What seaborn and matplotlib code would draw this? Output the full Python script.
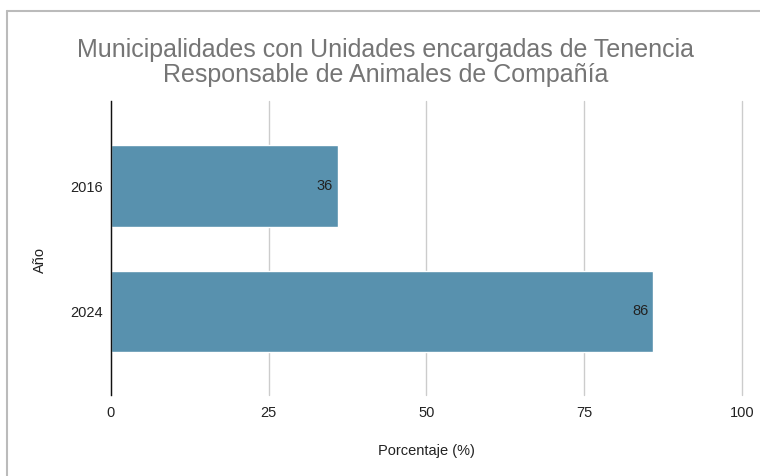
import matplotlib
matplotlib.use("Agg")
import matplotlib.pyplot as plt
import seaborn as sns
import pandas as pd
from matplotlib.lines import Line2D

# Datos del grafico
anios = ["2016", "2024"]
porcentajes = [36, 86]
ticks_x = [0, 25, 50, 75, 100]

titulo = "Municipalidades con Unidades encargadas de Tenencia\nResponsable de Animales de Compañía"
color_barra = "#5891ae"

df = pd.DataFrame({"Año": anios, "Porcentaje": porcentajes})

sns.set_theme(style="white")
plt.rcParams["font.family"] = ["Liberation Sans", "DejaVu Sans"]

fig = plt.figure(figsize=(7.6, 4.76), dpi=100)
ax = fig.add_axes([0.146, 0.170, 0.830, 0.618])

sns.barplot(data=df, x="Porcentaje", y="Año", color=color_barra, width=0.65,
            saturation=1, ax=ax, zorder=3)

# etiquetas dentro de las barras
for i, v in enumerate(porcentajes):
    ax.text(v - 0.8, i, str(v), ha="right", va="center", fontsize=10.5,
            color="#222222", zorder=5)

ax.set_xlim(0, 100)
ax.set_ylim(1.67, -0.68)
ax.set_xticks(ticks_x)
ax.xaxis.grid(True, color="#cccccc", linewidth=1, zorder=0)
for gl in ax.get_xgridlines():
    gl.set_clip_on(False)
ax.tick_params(axis="x", length=0, labelsize=10.5, colors="#222222", pad=8)
ax.tick_params(axis="y", length=0, labelsize=10.5, colors="#222222", pad=6)
for s in ["top", "right", "bottom"]:
    ax.spines[s].set_visible(False)
ax.spines["left"].set_color("#111111")
ax.spines["left"].set_linewidth(1)
ax.spines["left"].set_zorder(4)

ax.set_xlabel("Porcentaje (%)", fontsize=10.5, color="#222222", labelpad=17)
ax.set_ylabel("Año", fontsize=10.5, color="#222222")
ax.yaxis.set_label_coords(-0.102, 0.46)

fig.text(0.507, 0.868, titulo, ha="center", va="center", fontsize=18,
         color="#757575", linespacing=1.05)

# marco del grafico (hoja de calculo)
fig.add_artist(Line2D([7/760, 7/760], [0, 1 - 11/476], transform=fig.transFigure,
                      color="#bbbbbb", linewidth=1.5))
fig.add_artist(Line2D([7/760, 1], [1 - 11/476, 1 - 11/476], transform=fig.transFigure,
                      color="#bbbbbb", linewidth=1.5))

fig.savefig("out.png", dpi=100)
